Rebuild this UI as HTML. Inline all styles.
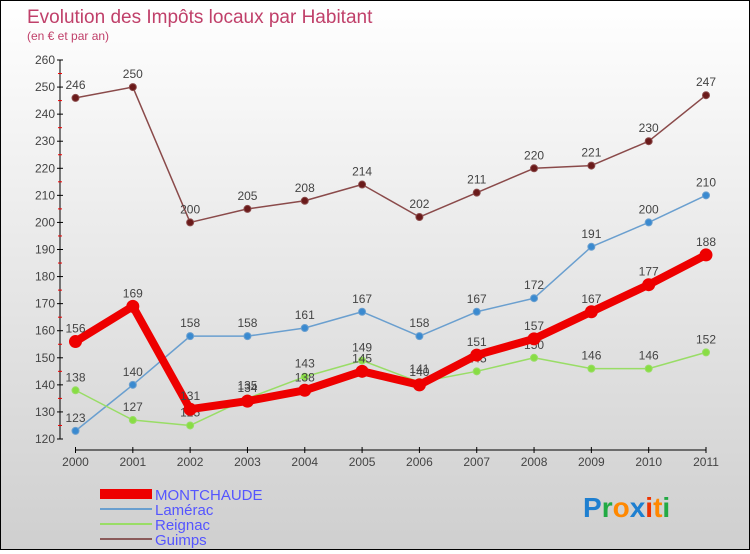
<!DOCTYPE html>
<html><head><meta charset="utf-8"><style>
html,body{margin:0;padding:0}
body{width:750px;height:550px;overflow:hidden;font-family:"Liberation Sans",sans-serif}
#c{position:absolute;left:0;top:0;width:748px;height:548px;border:1px solid #000;background:linear-gradient(#ffffff,#cfcfcf)}
</style></head><body>
<div id="c">
<svg id="s" width="748" height="548" xmlns="http://www.w3.org/2000/svg">
<text x="26" y="22" font-size="19" fill="#c0406a" font-family="Liberation Sans, sans-serif">Evolution des Impôts locaux par Habitant</text>
<text x="26" y="39" font-size="12" fill="#c0406a">(en € et par an)</text>
<g id="axes"></g><g id="series"></g>
<g>
<rect x="99" y="488" width="52" height="10" fill="#ee0000"/>
<text x="154" y="499" font-size="15" fill="#5555ff">MONTCHAUDE</text>
<rect x="99" y="507" width="52" height="2" fill="#6a9fcf"/>
<text x="154" y="514" font-size="15" fill="#5555ff">Lamérac</text>
<rect x="99" y="522" width="52" height="2" fill="#99dd66"/>
<text x="154" y="529" font-size="15" fill="#5555ff">Reignac</text>
<rect x="99" y="537" width="52" height="2" fill="#8a5a5a"/>
<text x="154" y="544" font-size="15" fill="#5555ff">Guimps</text>
</g>
<g font-size="28" font-weight="bold" font-family="Liberation Sans, sans-serif">
<text x="582" y="516"><tspan fill="#1e7fd0">P</tspan><tspan fill="#22aa44">r</tspan><tspan fill="#ff8800">o</tspan><tspan fill="#1e7fd0">x</tspan><tspan fill="#ee3300">i</tspan><tspan fill="#ff8800">t</tspan><tspan fill="#22aa44">i</tspan></text>
</g>
</svg></div>
<script>
const years=[2000,2001,2002,2003,2004,2005,2006,2007,2008,2009,2010,2011];
const montchaude=[156,169,131,134,138,145,140,151,157,167,177,188];
const lamerac=[123,140,158,158,161,167,158,167,172,191,200,210];
const reignac=[138,127,125,135,143,149,141,145,150,146,146,152];
const guimps=[246,250,200,205,208,214,202,211,220,221,230,247];
const yTicks=[120,130,140,150,160,170,180,190,200,210,220,230,240,250,260];
const NS='http://www.w3.org/2000/svg';
function xS(i){return 74.5+i*(705-74.5)/11;}
function yS(v){return 438-(v-120)*(438-59)/140;}
function mk(t,a,p){const e=document.createElementNS(NS,t);for(const k in a)e.setAttribute(k,a[k]);p.appendChild(e);return e;}
const ax=document.getElementById('axes');
const yl=mk('line',{x1:59,y1:yS(260),x2:59,y2:yS(120),stroke:'#000','stroke-width':1},ax);


yTicks.forEach(v=>{
 mk('line',{x1:56,x2:62,y1:yS(v),y2:yS(v),stroke:'#000'},ax);
 if(v<260)mk('line',{x1:57,x2:61,y1:yS(v+5),y2:yS(v+5),stroke:'#e00'},ax);
 const t=mk('text',{x:54,y:yS(v)+4,'font-size':12,fill:'#444','text-anchor':'end'},ax);t.textContent=v;
 
 
});
const xl=mk('line',{x1:xS(0),x2:xS(11),y1:449,y2:449,stroke:'#000'},ax);


years.forEach((y,i)=>{
 mk('line',{x1:xS(i),x2:xS(i),y1:446,y2:452,stroke:'#000'},ax);
 const t=mk('text',{x:xS(i),y:465,'font-size':12,fill:'#444','text-anchor':'middle'},ax);t.textContent=y;
 
 
});
const sg=document.getElementById('series');
function draw(name,vals,color,w,r,dot){
 const g=mk('g',{},sg);
 
 
 const p=mk('polyline',{points:vals.map((v,i)=>xS(i)+','+yS(v)).join(' '),fill:'none',stroke:color,'stroke-width':w,'stroke-linejoin':'round'},g);
 
 
 vals.forEach((v,i)=>{
  const c=mk('circle',{cx:xS(i),cy:yS(v),r:r,fill:dot,stroke:color,'stroke-width':1},g);
  
  
  const t=mk('text',{x:xS(i),y:yS(v)-9,'font-size':12,fill:'#444','text-anchor':'middle'},g);t.textContent=v;
  
  
 });
}
draw('guimps',guimps,'#8a4a4a',1.5,3.5,'#6a1a1a');
draw('lamerac',lamerac,'#6a9fcf',1.5,3.5,'#3a8ad0');
draw('reignac',reignac,'#99dd66',1.5,3.5,'#88dd44');
draw('montchaude',montchaude,'#ee0000',8,6,'#ee0000');
</script>
</body></html>
